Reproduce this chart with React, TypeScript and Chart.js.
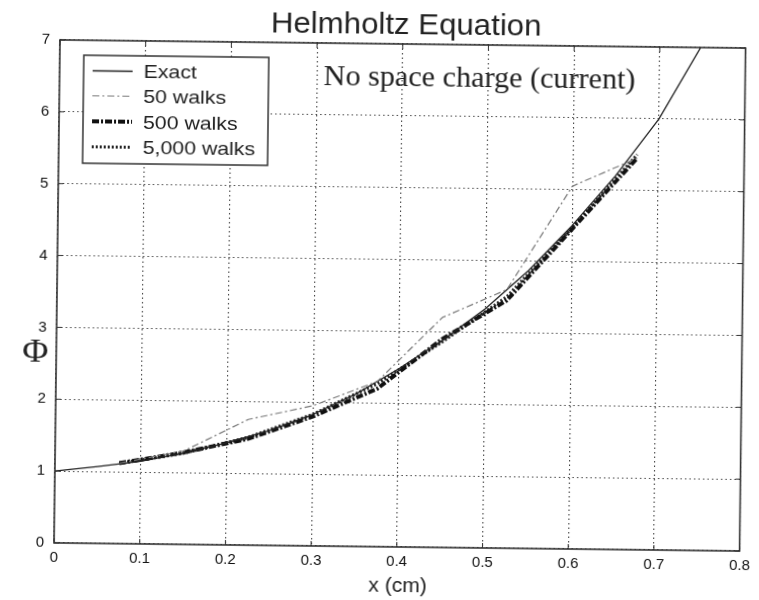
import React, { useEffect, useRef } from "react";
import { Chart, registerables } from "chart.js";

Chart.register(...registerables);

// ---- data ----
const xExact = [0, 0.05, 0.1, 0.15, 0.2, 0.25, 0.3, 0.35, 0.4, 0.45, 0.5, 0.55, 0.6, 0.65, 0.7, 0.75];
const exactPhi = [1, 1.07, 1.15, 1.27, 1.42, 1.6, 1.83, 2.12, 2.48, 2.88, 3.33, 3.87, 4.5, 5.2, 6.0, 7.05];

const xWalks = [0.075, 0.15, 0.225, 0.3, 0.375, 0.45, 0.525, 0.6, 0.675];
const walks50 = [1.12, 1.3, 1.75, 1.95, 2.3, 3.2, 3.6, 5.05, 5.45];
const walks500 = [1.12, 1.28, 1.48, 1.8, 2.2, 2.9, 3.45, 4.45, 5.45];
const walks5000 = [1.12, 1.27, 1.5, 1.83, 2.27, 2.86, 3.5, 4.47, 5.5];

const xTickLabels = ["0", "0.1", "0.2", "0.3", "0.4", "0.5", "0.6", "0.7", "0.8"];
const yTickLabels = ["0", "1", "2", "3", "4", "5", "6", "7"];

const seriesNames = ["Exact", "50 walks", "500 walks", "5,000 walks"];
const titleText = "Helmholtz Equation";
const noteText = "No space charge (current)";
const xAxisTitle = "x (cm)";
const yAxisTitle = "Φ";

const styles = [
  { color: "#222", width: 1.3, dash: [] as number[] },
  { color: "#7a7a7a", width: 1.2, dash: [7, 3, 2, 3] },
  { color: "#111", width: 4, dash: [7, 2, 2, 2] },
  { color: "#222", width: 3.2, dash: [2, 2] },
];

function pts(xs: number[], ys: number[]) {
  return xs.map((x, i) => ({ x, y: ys[i] }));
}

function drawText(ctx: CanvasRenderingContext2D, text: string, x: number, y: number, font: string, align: CanvasTextAlign, baseline: CanvasTextBaseline, sx = 1, color = "#111") {
  ctx.save();
  ctx.font = font;
  ctx.textAlign = align;
  ctx.textBaseline = baseline;
  ctx.fillStyle = color;
  ctx.translate(x, y);
  ctx.scale(sx, 1);
  ctx.fillText(text, 0, 0);
  ctx.restore();
}

const decorPlugin = {
  id: "decor",
  afterDatasetsDraw(chart: any) {
    const ctx: CanvasRenderingContext2D = chart.ctx;
    const a = chart.chartArea;
    const xs = chart.scales.x;
    const ys = chart.scales.y;
    ctx.save();
    // inward ticks
    ctx.strokeStyle = "#333";
    ctx.lineWidth = 1;
    ctx.setLineDash([]);
    xTickLabels.forEach((_, i) => {
      const px = xs.getPixelForValue(i * 0.1);
      ctx.beginPath();
      ctx.moveTo(px, a.bottom);
      ctx.lineTo(px, a.bottom - 5);
      ctx.moveTo(px, a.top);
      ctx.lineTo(px, a.top + 5);
      ctx.stroke();
    });
    yTickLabels.forEach((_, i) => {
      const py = ys.getPixelForValue(i);
      ctx.beginPath();
      ctx.moveTo(a.left, py);
      ctx.lineTo(a.left + 5, py);
      ctx.moveTo(a.right, py);
      ctx.lineTo(a.right - 5, py);
      ctx.stroke();
    });
    // frame
    ctx.strokeStyle = "#333";
    ctx.lineWidth = 1.6;
    ctx.strokeRect(a.left, a.top, a.right - a.left, a.bottom - a.top);

    // legend box
    const lx = 81, ly = 59, lw = 185, lh = 108;
    ctx.fillStyle = "#fff";
    ctx.fillRect(lx, ly, lw, lh);
    ctx.strokeStyle = "#333";
    ctx.lineWidth = 1.5;
    ctx.strokeRect(lx, ly, lw, lh);
    const rowY = [74.5, 99.5, 125, 150.5];
    seriesNames.forEach((name, i) => {
      const st = styles[i];
      ctx.save();
      ctx.strokeStyle = st.color;
      ctx.lineWidth = st.width;
      ctx.setLineDash(st.dash);
      ctx.beginPath();
      ctx.moveTo(90, rowY[i]);
      ctx.lineTo(130, rowY[i]);
      ctx.stroke();
      ctx.restore();
      drawText(ctx, name, 141, rowY[i] + 6.8, '19px "Liberation Sans"', "left", "alphabetic", 1.12, "#222");
    });

    // texts
    drawText(ctx, titleText, 403, 34, '30px "Liberation Sans"', "center", "alphabetic", 1.04, "#222");
    drawText(ctx, noteText, 477, 86, '29px "Liberation Serif"', "center", "alphabetic", 1.04, "#222");
    drawText(ctx, xAxisTitle, 401, 592, '21px "Liberation Sans"', "center", "alphabetic", 1, "#222");
    drawText(ctx, yAxisTitle, 36, 357, '34px "Liberation Serif"', "center", "middle", 1.05, "#222");
    ctx.restore();
  },
};

export default function App() {
  const ref = useRef<HTMLCanvasElement | null>(null);
  useEffect(() => {
    if (!ref.current) return;
    const mk = (i: number, data: any[]) => ({
      label: seriesNames[i],
      data,
      showLine: true,
      borderColor: styles[i].color,
      borderWidth: styles[i].width,
      borderDash: styles[i].dash,
      pointRadius: 0,
      fill: false,
      tension: 0,
    });
    const chart = new Chart(ref.current, {
      type: "scatter",
      data: {
        datasets: [
          mk(1, pts(xWalks, walks50)),
          mk(0, pts(xExact, exactPhi)),
          mk(2, pts(xWalks, walks500)),
          mk(3, pts(xWalks, walks5000)),
        ],
      },
      options: {
        animation: false,
        responsive: false,
        devicePixelRatio: 1,
        layout: { padding: { top: 44, right: 12, left: 0, bottom: 0 } },
        plugins: { legend: { display: false }, tooltip: { enabled: false }, title: { display: false } },
        scales: {
          x: {
            type: "linear",
            min: 0,
            max: 0.8,
            afterFit: (s: any) => { s.height = 53; },
            afterBuildTicks: (s: any) => { s.ticks = xTickLabels.map((_, i) => ({ value: i / 10 })); },
            ticks: {
              padding: 6,
              color: "#111",
              font: { family: "Liberation Sans", size: 15 },
              callback: (_v: any, i: number) => xTickLabels[i],
              maxRotation: 0,
            },
            grid: { color: "#444", lineWidth: 1.1, drawTicks: false },
            border: { display: false, dash: [1.5, 3] },
          },
          y: {
            type: "linear",
            min: 0,
            max: 7,
            afterFit: (s: any) => { s.width = 57; },
            afterBuildTicks: (s: any) => { s.ticks = yTickLabels.map((_, i) => ({ value: i })); },
            ticks: {
              padding: 10,
              color: "#111",
              font: { family: "Liberation Sans", size: 15 },
              callback: (_v: any, i: number) => yTickLabels[i],
            },
            grid: { color: "#444", lineWidth: 1.1, drawTicks: false },
            border: { display: false, dash: [1.5, 3] },
          },
        },
      },
      plugins: [decorPlugin],
    });
    return () => chart.destroy();
  }, []);
  return (
    <div style={{ position: "fixed", left: 0, top: 0, width: 759, height: 600, background: "#fff" }}>
      <canvas
        ref={ref}
        width={759}
        height={600}
        style={{ width: 759, height: 600, display: "block", transform: "rotate(0.68deg)", transformOrigin: "401.75px 295.5px" }}
      />
    </div>
  );
}
